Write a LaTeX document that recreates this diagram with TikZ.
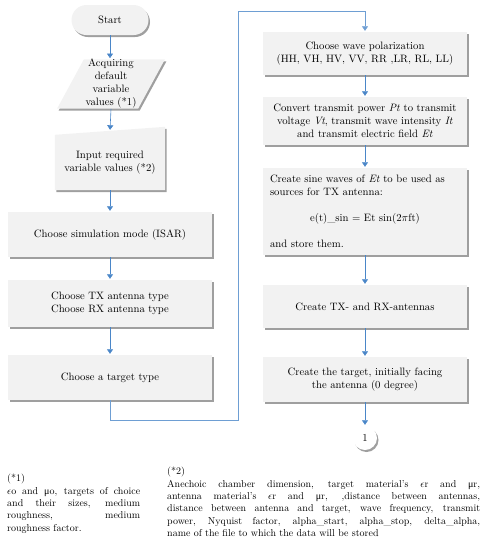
\documentclass[tikz,border=0pt]{standalone}
\usepackage{fontspec}
\usepackage{tikz}
\usetikzlibrary{positioning}
\usetikzlibrary{shapes.geometric,shadows,arrows.meta,backgrounds}
\newfontfamily\greekfont{Liberation Serif}
\newcommand{\muo}{{\greekfont μ}}
\definecolor{flowblue}{RGB}{74,134,200}
\definecolor{boxgray}{RGB}{242,242,242}

\begin{document}
\begin{tikzpicture}[x=1pt,y=-1pt,
 font=\fontsize{10.7}{13}\selectfont,
 shade/.style={drop shadow={shadow xshift=1.5pt,shadow yshift=-2pt,fill=black!75,opacity=0.5}},
 box/.style={rectangle,fill=boxgray,shade,minimum width=204pt,minimum height=45pt,align=center,inner sep=4pt},
 flow/.style={flowblue,semithick,-{Triangle[length=4.5pt,width=6pt]},shorten >=1pt},
 note/.style={anchor=north west,inner sep=0pt,align=justify,font=\fontsize{10}{12.4}\selectfont}]
 \useasboundingbox (0,0) rectangle (485,550);

 % left column
 \node[box,rounded corners=15pt,minimum width=77pt,minimum height=30pt] (start) at (110,20) {Start};
 \node[box,trapezium,trapezium left angle=63,trapezium right angle=117,trapezium stretches=true,
  minimum width=108pt,minimum height=48pt,inner sep=0pt] (acq) at (111,84)
  {Acquiring\\default\\variable\\values (*1)};
 \node[rectangle,minimum width=110pt,minimum height=55pt,align=center,inner sep=0pt] (input) at (110,162.5)
  {Input required\\variable values (*2)};
 \begin{scope}[on background layer]
  \fill[boxgray,shade] (input.south west) -- (input.south east) -- ([yshift=8pt]input.north east)
   -- (input.north west) -- cycle;
 \end{scope}
 \node[box] (mode) at (110,234.5) {Choose simulation mode (ISAR)};
 \node[box,minimum height=47pt] (txrx) at (110,303.5) {Choose TX antenna type\\Choose RX antenna type};
 \node[box] (tgt) at (110,377.5) {Choose a target type};

 % right column
 \node[box,minimum height=43pt] (pol) at (365,53.5) {Choose wave polarization\\(HH, VH, HV, VV, RR ,LR, RL, LL)};
 \node[box,minimum height=48pt] (conv) at (365,121) {Convert transmit power \textit{Pt} to transmit\\
  voltage \textit{Vt}, transmit wave intensity \textit{It}\\and transmit electric field \textit{Et}};
 \node[box,minimum height=87pt,text width=190pt,align=left] (sine) at (365,211.5)
  {Create sine waves of \textit{Et} to be used as\\sources for TX antenna:\\[13pt]
  \makebox[190pt]{e(t)\_sin = Et sin(2$\pi$ft)}\\[13pt]and store them.};
 \node[box,minimum height=43pt] (ant) at (365,306.5) {Create TX- and RX-antennas};
 \node[box] (create) at (365,379.5) {Create the target, initially facing\\the antenna (0 degree)};
 \node[circle,fill=white,shade,minimum size=24pt,inner sep=0pt] (conn) at (365,438) {1};

 % connectors
 \draw[flow] (start.south) -- (start.south|-acq.north);
 \draw[flow] (acq.south) -- ([yshift=4pt]input.north);
 \draw[flow] (input.south) -- (mode.north);
 \draw[flow] (mode) -- (txrx);
 \draw[flow] (txrx) -- (tgt);
 \coordinate (railb) at (238,420);
 \coordinate (railt) at (238,11);
 \draw[flow,flowblue!80] (tgt.south) |- (railb) -- (railt) -| (pol.north);
 \draw[flow] (pol) -- (conv);
 \draw[flow] (conv) -- (sine);
 \draw[flow] (sine) -- (ant);
 \draw[flow] (ant) -- (create);
 \draw[flow] (create) -- (conn);

 % notes
 \node[note,text width=133pt] (note1) at (7,474)
  {(*1)\\$\epsilon$o and \muo o, targets of choice\linebreak and their sizes, medium\linebreak
  roughness, medium\linebreak roughness factor.};
 \node[note,text width=313pt] (note2) at (167,467)
  {(*2)\\Anechoic chamber dimension, target material's $\epsilon$r and \muo r,\linebreak
  antenna material's $\epsilon$r and \muo r, ,distance between antennas,\linebreak
  distance between antenna and target, wave frequency, transmit\linebreak
  power, Nyquist factor, alpha\_start, alpha\_stop, delta\_alpha,\linebreak
  name of the file to which the data will be stored};
\end{tikzpicture}
\end{document}
